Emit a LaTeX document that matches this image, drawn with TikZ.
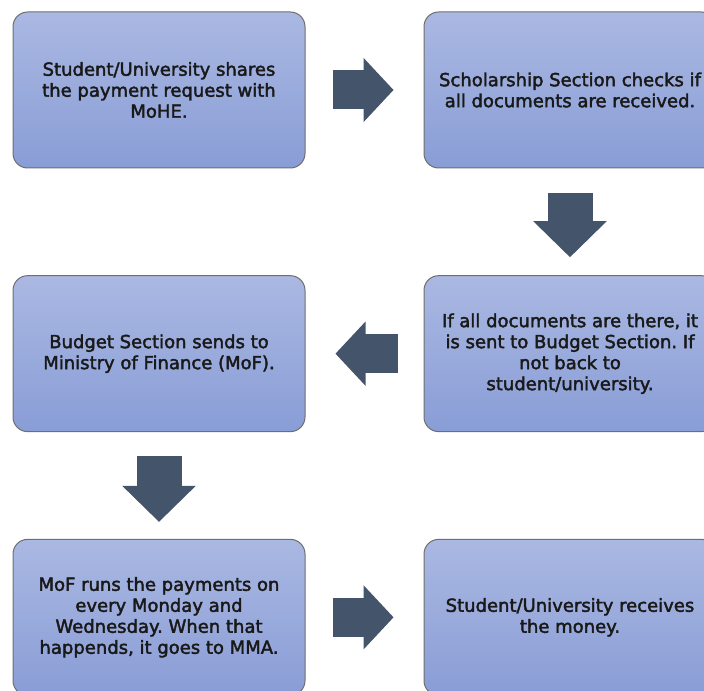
\documentclass[tikz,border=0pt]{standalone}
\usepackage{fontspec}
\setmainfont{DejaVu Sans}[FakeBold=2.2]
\usetikzlibrary{positioning,arrows.meta}
\frenchspacing

\definecolor{boxtop}{RGB}{170,184,226}
\definecolor{boxbot}{RGB}{137,157,214}
\definecolor{boxline}{RGB}{110,110,110}
\definecolor{flowfill}{HTML}{44546A}
\definecolor{txt}{RGB}{25,25,25}

\begin{document}
\begin{tikzpicture}[
		stepbox/.style={draw=boxline, line width=0.75pt, rounded corners=11pt,
			top color=boxtop, bottom color=boxbot,
			minimum width=219pt, minimum height=117pt, align=center,
			text=txt, font=\fontsize{13.5}{15.75}\selectfont},
		flowh/.style={draw=flowfill, line width=29.25pt,
			-{Triangle[length=22.5pt,width=48pt,line width'=1pt]}},
		flowv/.style={draw=flowfill, line width=33.75pt,
			-{Triangle[length=27pt,width=55pt,line width'=1pt]}},
		node distance=80pt and 88.5pt]
				\useasboundingbox (0,0) rectangle (528pt,-518.25pt);
				\clip (0,0) rectangle (528pt,-518.25pt);

				% the six steps
				\node[stepbox] (request) at (119.25pt,-67.5pt) {Student/University shares\\the payment request with\\MoHE.};
				\node[stepbox, right=of request] (check) {Scholarship Section checks if\\all documents are received.};
				\node[stepbox, below=of check] (forward) {If all documents are there, it\\is sent to Budget Section. If\\not back to\\student/university.};
				\node[stepbox, left=of forward] (budget) {Budget Section sends to\\Ministry of Finance (MoF).};
				\node[stepbox, below=of budget] (mof) {MoF runs the payments on\\every Monday and\\Wednesday. When that\\happends, it goes to MMA.};
				\node[stepbox, right=of mof] (receive) {Student/University receives\\the money.};

				% block arrows
				\draw[flowh, shorten <=20.25pt, shorten >=22.5pt] (request.east) -- (check.west);
				\draw[flowv, shorten <=18.75pt, shorten >=13.5pt] (check.south) -- (forward.north);
				\draw[flowh, shorten <=19.5pt, shorten >=22.5pt] (forward.west) -- (budget.east);
				\draw[flowv, shorten <=18pt, shorten >=12.75pt] (budget.south) -- (mof.north);
				\draw[flowh, shorten <=20.25pt, shorten >=22.5pt] (mof.east) -- (receive.west);

			\end{tikzpicture}
\end{document}
